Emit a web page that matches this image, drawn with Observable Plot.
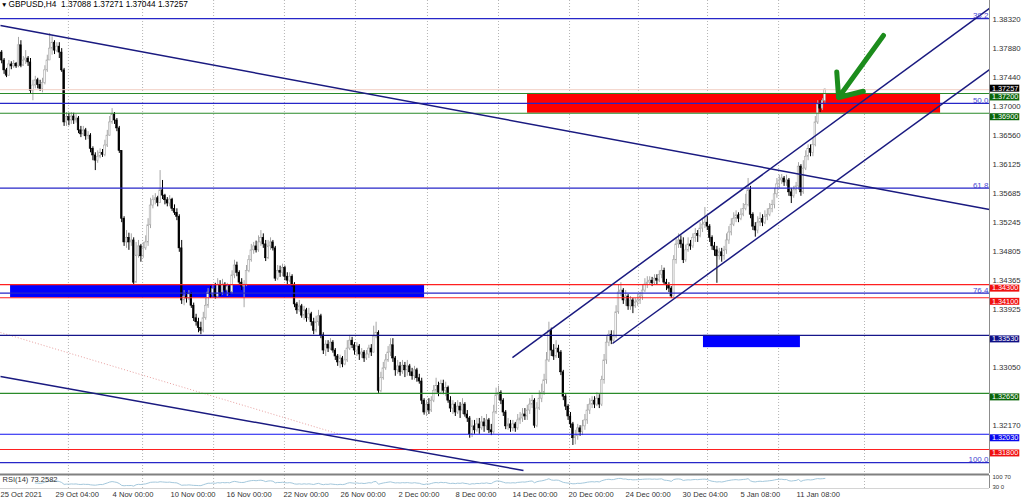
<!DOCTYPE html>
<html><head><meta charset="utf-8">
<script src="https://cdn.jsdelivr.net/npm/d3@7"></script>
<script src="https://cdn.jsdelivr.net/npm/@observablehq/plot@0.6"></script>
<style>
body{margin:0;background:#fff;}
#chart svg{display:block;}
</style></head><body><div id="chart"></div>
<script>
// ---------- DATA ----------
const headerText = "GBPUSD,H4  1.37088 1.37271 1.37044 1.37257";
const rsiText = "RSI(14) 73.2582";
const firstOpen = 1.3782;
const closes = [
1.3770,1.3755,1.3747,1.3764,1.3761,1.3765,1.3761,1.3793,1.3762,1.3770,
1.3773,1.3767,1.3724,1.3732,1.3740,1.3733,1.3727,1.3736,1.3755,1.3770,
1.3788,1.3797,1.3785,1.3791,1.3782,1.3755,1.3676,1.3684,1.3679,1.3685,
1.3679,1.3682,1.3664,1.3658,1.3664,1.3655,1.3656,1.3636,1.3626,1.3618,
1.3624,1.3630,1.3627,1.3641,1.3656,1.3676,1.3688,1.3679,1.3667,1.3633,
1.3530,1.3494,1.3501,1.3494,1.3497,1.3433,1.3474,1.3488,1.3473,1.3485,
1.3494,1.3520,1.3550,1.3558,1.3561,1.3554,1.3573,1.3565,1.3558,1.3553,
1.3559,1.3545,1.3539,1.3533,1.3485,1.3406,1.3412,1.3409,1.3415,1.3398,
1.3379,1.3373,1.3364,1.3360,1.3379,1.3398,1.3418,1.3415,1.3423,1.3412,
1.3429,1.3418,1.3430,1.3421,1.3427,1.3418,1.3444,1.3459,1.3448,1.3433,
1.3427,1.3430,1.3451,1.3467,1.3482,1.3488,1.3482,1.3494,1.3501,1.3491,
1.3470,1.3488,1.3494,1.3485,1.3439,1.3451,1.3448,1.3455,1.3442,1.3436,
1.3442,1.3430,1.3400,1.3391,1.3397,1.3383,1.3391,1.3379,1.3385,1.3373,
1.3360,1.3373,1.3382,1.3353,1.3330,1.3339,1.3333,1.3342,1.3330,1.3321,
1.3312,1.3318,1.3309,1.3315,1.3333,1.3345,1.3338,1.3330,1.3336,1.3324,
1.3327,1.3318,1.3324,1.3333,1.3327,1.3351,1.3357,1.3269,1.3288,1.3303,
1.3315,1.3327,1.3338,1.3318,1.3300,1.3306,1.3297,1.3307,1.3300,1.3306,
1.3297,1.3291,1.3300,1.3288,1.3283,1.3254,1.3236,1.3248,1.3239,1.3254,
1.3269,1.3276,1.3266,1.3279,1.3269,1.3273,1.3254,1.3242,1.3248,1.3236,
1.3245,1.3239,1.3248,1.3233,1.3227,1.3203,1.3215,1.3209,1.3218,1.3212,
1.3221,1.3215,1.3224,1.3209,1.3206,1.3236,1.3262,1.3266,1.3254,1.3236,
1.3215,1.3218,1.3212,1.3218,1.3212,1.3224,1.3227,1.3233,1.3230,1.3239,
1.3248,1.3254,1.3216,1.3242,1.3257,1.3266,1.3285,1.3315,1.3360,1.3330,
1.3321,1.3333,1.3327,1.3297,1.3260,1.3245,1.3230,1.3218,1.3197,1.3200,
1.3212,1.3206,1.3215,1.3224,1.3239,1.3248,1.3254,1.3248,1.3257,1.3248,
1.3285,1.3315,1.3342,1.3354,1.3345,1.3351,1.3388,1.3418,1.3421,1.3406,
1.3412,1.3397,1.3406,1.3397,1.3403,1.3406,1.3412,1.3421,1.3430,1.3433,
1.3436,1.3432,1.3439,1.3436,1.3445,1.3451,1.3433,1.3429,1.3424,1.3412,
1.3467,1.3491,1.3497,1.3491,1.3467,1.3482,1.3491,1.3488,1.3501,1.3507,
1.3504,1.3515,1.3521,1.3524,1.3518,1.3501,1.3488,1.3482,1.3473,1.3479,
1.3473,1.3482,1.3497,1.3509,1.3521,1.3530,1.3535,1.3530,1.3536,1.3545,
1.3551,1.3573,1.3536,1.3518,1.3512,1.3524,1.3530,1.3524,1.3533,1.3536,
1.3545,1.3551,1.3567,1.3582,1.3588,1.3591,1.3585,1.3588,1.3570,1.3564,
1.3573,1.3579,1.3609,1.3570,1.3606,1.3624,1.3636,1.3630,1.3642,1.3676,
1.3703,1.3697,1.37088,1.37257];
const highs = [
1.3785,1.3773,1.3758,1.3770,1.3768,1.3770,1.3767,1.3805,1.3800,1.3776,
1.3785,1.3776,1.3773,1.3740,1.3746,1.3743,1.3740,1.3743,1.3762,1.3778,
1.3811,1.3806,1.3800,1.3797,1.3797,1.3788,1.3758,1.3691,1.3690,1.3691,
1.3690,1.3688,1.3685,1.3670,1.3670,1.3667,1.3662,1.3659,1.3639,1.3630,
1.3633,1.3636,1.3635,1.3649,1.3664,1.3685,1.3697,1.3691,1.3682,1.3670,
1.3633,1.3533,1.3512,1.3508,1.3507,1.3501,1.3494,1.3497,1.3491,1.3494,
1.3504,1.3530,1.3561,1.3565,1.3568,1.3564,1.3603,1.3588,1.3567,1.3562,
1.3565,1.3561,1.3551,1.3545,1.3536,1.3497,1.3421,1.3418,1.3421,1.3418,
1.3402,1.3385,1.3379,1.3373,1.3388,1.3409,1.3424,1.3427,1.3429,1.3432,
1.3439,1.3436,1.3438,1.3433,1.3432,1.3430,1.3451,1.3467,1.3464,1.3451,
1.3439,1.3436,1.3459,1.3474,1.3491,1.3494,1.3496,1.3504,1.3512,1.3507,
1.3497,1.3497,1.3501,1.3497,1.3488,1.3459,1.3458,1.3461,1.3458,1.3448,
1.3448,1.3445,1.3433,1.3403,1.3406,1.3400,1.3397,1.3394,1.3394,1.3388,
1.3379,1.3382,1.3391,1.3385,1.3357,1.3345,1.3345,1.3348,1.3345,1.3333,
1.3324,1.3323,1.3321,1.3330,1.3345,1.3353,1.3350,1.3342,1.3342,1.3339,
1.3333,1.3330,1.3330,1.3338,1.3339,1.3367,1.3373,1.3360,1.3297,1.3312,
1.3324,1.3336,1.3348,1.3348,1.3321,1.3315,1.3312,1.3315,1.3312,1.3315,
1.3309,1.3303,1.3306,1.3303,1.3294,1.3288,1.3257,1.3254,1.3257,1.3260,
1.3277,1.3288,1.3282,1.3285,1.3285,1.3282,1.3276,1.3260,1.3254,1.3251,
1.3254,1.3251,1.3257,1.3251,1.3239,1.3230,1.3224,1.3224,1.3227,1.3227,
1.3230,1.3227,1.3233,1.3227,1.3218,1.3247,1.3273,1.3276,1.3269,1.3257,
1.3239,1.3227,1.3224,1.3224,1.3221,1.3233,1.3236,1.3242,1.3242,1.3247,
1.3257,1.3262,1.3257,1.3251,1.3269,1.3279,1.3294,1.3327,1.3373,1.3364,
1.3339,1.3345,1.3338,1.3330,1.3300,1.3263,1.3248,1.3236,1.3221,1.3209,
1.3218,1.3216,1.3224,1.3233,1.3248,1.3257,1.3260,1.3260,1.3266,1.3263,
1.3291,1.3324,1.3351,1.3360,1.3360,1.3360,1.3398,1.3430,1.3433,1.3424,
1.3421,1.3415,1.3412,1.3409,1.3409,1.3415,1.3418,1.3430,1.3439,1.3442,
1.3442,1.3441,1.3445,1.3445,1.3451,1.3459,1.3455,1.3438,1.3433,1.3427,
1.3474,1.3501,1.3507,1.3504,1.3501,1.3490,1.3501,1.3497,1.3507,1.3515,
1.3512,1.3524,1.3530,1.3547,1.3533,1.3521,1.3504,1.3494,1.3488,1.3485,
1.3485,1.3488,1.3507,1.3518,1.3530,1.3539,1.3542,1.3539,1.3545,1.3553,
1.3567,1.3591,1.3579,1.3539,1.3524,1.3533,1.3539,1.3536,1.3542,1.3545,
1.3553,1.3558,1.3576,1.3591,1.3596,1.3597,1.3594,1.3596,1.3591,1.3576,
1.3579,1.3585,1.3615,1.3612,1.3618,1.3633,1.3642,1.3642,1.3652,1.3685,
1.3709,1.3709,1.3712,1.37271];
const lows = [
1.3765,1.3749,1.3744,1.3746,1.3756,1.3758,1.3758,1.3759,1.3759,1.3761,
1.3764,1.3761,1.3720,1.3709,1.3727,1.3727,1.3723,1.3721,1.3733,1.3752,
1.3770,1.3778,1.3779,1.3782,1.3773,1.3752,1.3670,1.3670,1.3671,1.3673,
1.3673,1.3675,1.3659,1.3653,1.3655,1.3649,1.3650,1.3630,1.3618,1.3603,
1.3614,1.3621,1.3623,1.3624,1.3638,1.3655,1.3673,1.3673,1.3662,1.3629,
1.3524,1.3488,1.3485,1.3482,1.3488,1.3430,1.3432,1.3470,1.3464,1.3470,
1.3482,1.3488,1.3515,1.3545,1.3551,1.3548,1.3553,1.3559,1.3551,1.3548,
1.3548,1.3541,1.3535,1.3527,1.3479,1.3400,1.3398,1.3402,1.3406,1.3394,
1.3374,1.3367,1.3357,1.3354,1.3357,1.3376,1.3394,1.3409,1.3411,1.3408,
1.3409,1.3412,1.3414,1.3415,1.3412,1.3414,1.3415,1.3439,1.3442,1.3429,
1.3421,1.3395,1.3427,1.3448,1.3464,1.3476,1.3478,1.3479,1.3488,1.3485,
1.3465,1.3468,1.3482,1.3481,1.3435,1.3436,1.3441,1.3442,1.3436,1.3430,
1.3433,1.3426,1.3395,1.3385,1.3388,1.3379,1.3376,1.3373,1.3376,1.3367,
1.3354,1.3357,1.3367,1.3348,1.3324,1.3321,1.3327,1.3330,1.3326,1.3315,
1.3306,1.3303,1.3304,1.3307,1.3312,1.3330,1.3333,1.3323,1.3321,1.3315,
1.3318,1.3312,1.3315,1.3318,1.3321,1.3326,1.3348,1.3265,1.3266,1.3285,
1.3300,1.3312,1.3321,1.3312,1.3291,1.3294,1.3291,1.3294,1.3289,1.3291,
1.3291,1.3285,1.3285,1.3282,1.3279,1.3248,1.3232,1.3230,1.3233,1.3236,
1.3251,1.3263,1.3260,1.3263,1.3263,1.3260,1.3250,1.3236,1.3233,1.3230,
1.3233,1.3227,1.3233,1.3229,1.3221,1.3197,1.3198,1.3203,1.3206,1.3203,
1.3209,1.3206,1.3209,1.3204,1.3201,1.3203,1.3233,1.3254,1.3248,1.3230,
1.3210,1.3209,1.3206,1.3207,1.3206,1.3209,1.3218,1.3221,1.3224,1.3224,
1.3233,1.3242,1.3212,1.3213,1.3239,1.3251,1.3262,1.3279,1.3312,1.3321,
1.3315,1.3318,1.3318,1.3292,1.3254,1.3239,1.3224,1.3212,1.3186,1.3187,
1.3194,1.3200,1.3201,1.3209,1.3218,1.3233,1.3242,1.3242,1.3245,1.3242,
1.3245,1.3279,1.3309,1.3336,1.3339,1.3341,1.3348,1.3385,1.3412,1.3400,
1.3397,1.3391,1.3391,1.3386,1.3394,1.3397,1.3400,1.3406,1.3418,1.3424,
1.3429,1.3427,1.3429,1.3430,1.3433,1.3439,1.3429,1.3421,1.3418,1.3409,
1.3411,1.3461,1.3485,1.3485,1.3462,1.3464,1.3479,1.3482,1.3485,1.3494,
1.3494,1.3501,1.3509,1.3515,1.3512,1.3494,1.3482,1.3473,1.3432,1.3467,
1.3464,1.3467,1.3476,1.3491,1.3504,1.3518,1.3524,1.3524,1.3527,1.3533,
1.3542,1.3548,1.3530,1.3512,1.3502,1.3507,1.3518,1.3518,1.3521,1.3527,
1.3533,1.3539,1.3545,1.3561,1.3576,1.3582,1.3579,1.3579,1.3564,1.3553,
1.3561,1.3567,1.3573,1.3564,1.3567,1.3603,1.3618,1.3624,1.3624,1.3639,
1.3673,1.3691,1.3694,1.37044];

// price axis labels (right)
const axisPrices = [1.38320,1.37880,1.37440,1.37000,1.36560,1.36125,1.35685,1.35245,1.34805,1.34365,1.33925,1.33050,1.32170];
// time axis (bar positions and labels)
const timeTickBars = [-0.5,22.4,46.2,70.3,93.7,117.4,141.2,165.3,189.1,212.8,236.2,259.9,283.7,307.8,331.2];
const timeLabels = ["25 Oct 2021","29 Oct 04:00","4 Nov 00:00","10 Nov 00:00","16 Nov 00:00","22 Nov 00:00","26 Nov 00:00","2 Dec 00:00","8 Dec 00:00","14 Dec 00:00","20 Dec 00:00","24 Dec 00:00","30 Dec 04:00","5 Jan 08:00","11 Jan 08:00"];
const gridBars = [27.8,58.7,88.3,117.8,147.4,177.4,207,236.6,265.3,294.1,323.7,359.5];

// horizontal levels with price tags
const levelPrices = [1.3720,1.3690,1.3430,1.3410,1.3353,1.3265,1.3203,1.3180];
const levelLineColors = ["#2a8a2a","#2a8a2a","#ff2020","#ff2020","#15158a","#2a8a2a","#1010f0","#ff2020"];
const levelTagColors = ["#0b660b","#0b660b","#f01010","#f01010","#0f0f85","#0b660b","#0808ee","#f01010"];
const bidPrice = 1.37257;

// Fibonacci retracement
const fib0 = 1.4250, fib100 = 1.3160;
const fibLevels = [38.2, 50.0, 61.8, 76.4, 100.0];

// zones (rectangles)
const zoneStart = [219.1, 3.7, 292.4];
const zoneEnd = [391.2, 176.2, 332.8];
const zoneTop = [1.3720, 1.3430, 1.3353];
const zoneBottom = [1.3690, 1.3410, 1.33344];
const zoneColors = ["#ff0000", "#0000ff", "#0000ff"];

// trendlines
const trendX1 = [-0.5, -0.5, 212.8, 254.5];
const trendY1 = [1.38231, 1.32906, 1.33194, 1.33407];
const trendX2 = [411.58, 217.4, 411.58, 411.58];
const trendY2 = [1.35440, 1.31480, 1.38489, 1.37563];
const dottedX = [-0.5, 141.2];
const dottedY = [1.33574, 1.32026];

// green arrow
const arrowFrom = [367.4, 1.38079];
const arrowTo = [348.7, 1.37139];

// RSI scale labels
const rsiScaleTop = ["100", "70"];
const rsiScaleBottom = ["30", "0"];

// ---------- BUILD ----------
const xDomain = [-0.5, 411.58];
const yDomain = [1.31435, 1.3861];
const font = "'Liberation Sans', Arial, sans-serif";
const fmt5 = d3.format(".5f");

const bars = closes.map((c, i) => {
  const o = i === 0 ? firstOpen : closes[i - 1];
  return {i, o, c, h: Math.max(highs[i], o, c), l: Math.min(lows[i], o, c), up: c >= o};
});
const levels = levelPrices.map((p, k) => ({price: p, line: levelLineColors[k], tag: levelTagColors[k]}));
const fibs = fibLevels.map(l => ({level: l, price: fib0 - (l / 100) * (fib0 - fib100)}));
const zones = zoneStart.map((s, k) => ({x1: s, x2: zoneEnd[k], y1: zoneBottom[k], y2: zoneTop[k], fill: zoneColors[k]}));
const trends = trendX1.map((x, k) => ({x1: x, y1: trendY1[k], x2: trendX2[k], y2: trendY2[k]}));

// RSI(14), Wilder
function rsi(c, n) {
  const out = []; let ag = 0, al = 0;
  for (let i = 1; i < c.length; i++) {
    const d = c[i] - c[i - 1], g = Math.max(d, 0), l = Math.max(-d, 0);
    if (i <= n) { ag += g / n; al += l / n; if (i === n) out.push({i, v: 100 - 100 / (1 + ag / al)}); }
    else { ag = (ag * (n - 1) + g) / n; al = (al * (n - 1) + l) / n; out.push({i, v: al === 0 ? 100 : 100 - 100 / (1 + ag / al)}); }
  }
  return out;
}
const rsiData = rsi(closes, 14);

const mainPlot = Plot.plot({
  width: 1024, height: 473,
  marginTop: 0, marginBottom: 0, marginLeft: 0, marginRight: 35,
  x: {domain: xDomain, axis: null},
  y: {domain: yDomain, axis: null},
  color: {type: "identity"},
  style: {fontFamily: font, fontSize: "7.5px", background: "#fff", overflow: "visible"},
  marks: [
    Plot.ruleX(gridBars, {stroke: "#b4b4b4", strokeDasharray: "1,2"}),
    Plot.rect(zones, {x1: "x1", x2: "x2", y1: "y1", y2: "y2", fill: "fill"}),
    Plot.link([0], {x1: () => dottedX[0], y1: () => dottedY[0], x2: () => dottedX[1], y2: () => dottedY[1], stroke: "#e8a0a0", strokeDasharray: "1,2", strokeWidth: 1}),
    Plot.ruleX(bars, {x: "i", y1: "l", y2: "h", stroke: d => d.up ? "#a6a6a6" : "#000000", strokeWidth: 1}),
    Plot.rect(bars, {x1: d => d.i - 0.33, x2: d => d.i + 0.33, y1: d => Math.min(d.o, d.c), y2: d => Math.max(d.o, d.c),
      fill: d => d.up ? "#ffffff" : "#000000", stroke: d => d.up ? "#a6a6a6" : "#000000", strokeWidth: 0.6}),
    Plot.ruleY([bidPrice], {stroke: "#f2cfc4", strokeWidth: 1}),
    Plot.ruleY(fibs, {y: "price", stroke: "#2626c8", strokeWidth: 1.2}),
    Plot.ruleY(levels, {y: "price", stroke: "line", strokeWidth: 1.1}),
    Plot.link(trends, {x1: "x1", y1: "y1", x2: "x2", y2: "y2", stroke: "#1a1a80", strokeWidth: 1.5}),
    Plot.text(fibs, {x: xDomain[1], y: "price", text: d => d.level.toFixed(1), textAnchor: "end", lineAnchor: "bottom", dx: -1, dy: -0.5, fill: "#4646d2", fontSize: 8}),
    Plot.arrow([0], {x1: () => arrowFrom[0], y1: () => arrowFrom[1], x2: () => arrowTo[0], y2: () => arrowTo[1], stroke: "#1c8c1c", strokeWidth: 5, headLength: 15, headAngle: 80}),
    Plot.ruleX([xDomain[1]], {stroke: "#8c8c8c"}),
    Plot.text(axisPrices, {x: xDomain[1], y: d => d, text: d => fmt5(d), textAnchor: "start", dx: 3, fill: "#333", fontSize: 7.8}),
    Plot.ruleY(levels, {y: "price", x1: 411.95, x2: 424.2, stroke: "tag", strokeWidth: 7, dy: 3.5}),
    Plot.text(levels, {x: 411.95, y: "price", text: d => fmt5(d.price), textAnchor: "start", dx: 1.5, dy: 3.5, fill: "#fff", fontSize: 7.3}),
    Plot.ruleY([bidPrice], {x1: 411.95, x2: 424.2, stroke: "#000", strokeWidth: 7, dy: -1.5}),
    Plot.text([bidPrice], {x: 411.95, y: d => d, text: d => fmt5(d), textAnchor: "start", dx: 1.5, dy: -1.5, fill: "#fff", fontSize: 7.3}),
    Plot.text(["\u25BC"], {frameAnchor: "top-left", dx: 0.5, dy: 1.5, lineAnchor: "top", textAnchor: "start", fill: "#000", fontSize: 6.5}),
    Plot.text([headerText], {frameAnchor: "top-left", dx: 8, dy: 0.5, lineAnchor: "top", textAnchor: "start", fill: "#000", fontSize: 8.3})
  ]
});

const labelMap = new Map(timeTickBars.map((b, k) => [b, timeLabels[k]]));

const rsiPlot = Plot.plot({
  width: 1024, height: 27,
  marginTop: 2, marginBottom: 12, marginLeft: 0, marginRight: 35,
  x: {domain: xDomain, axis: null},
  y: {domain: [0, 100], axis: null},
  style: {fontFamily: font, fontSize: "7.5px", background: "#fff", overflow: "visible"},
  marks: [
    Plot.ruleX(gridBars, {stroke: "#b4b4b4", strokeDasharray: "1,2"}),
    Plot.ruleY([100], {stroke: "#808080", strokeWidth: 2, dy: -1}),
    Plot.ruleY([0], {stroke: "#d4d4d4"}),
    Plot.line(rsiData, {x: "i", y: "v", stroke: "#a4c8dc", strokeWidth: 1}),
    Plot.ruleX([xDomain[1]], {stroke: "#8c8c8c"}),
    Plot.text([rsiText], {frameAnchor: "top-left", dx: 2, dy: 1, lineAnchor: "top", textAnchor: "start", fill: "#333", fontSize: 7.5}),
    // scale labels of the tiny RSI pane, set side by side so they stay legible
    Plot.text([rsiScaleTop.join(" ")], {x: xDomain[1], y: 100, lineAnchor: "top", textAnchor: "start", dx: 3, dy: -0.5, fill: "#333", fontSize: 6}),
    Plot.text([rsiScaleBottom.join(" ")], {x: xDomain[1], y: 0, lineAnchor: "bottom", textAnchor: "start", dx: 3, dy: 0.5, fill: "#333", fontSize: 6}),
    Plot.text(timeTickBars, {x: d => d, frameAnchor: "bottom", text: d => labelMap.get(d), textAnchor: "start", lineAnchor: "top", dy: 3, fill: "#333", fontSize: 7.6})
  ]
});

const el = document.getElementById("chart");
el.append(mainPlot, rsiPlot);
</script>
</body></html>
